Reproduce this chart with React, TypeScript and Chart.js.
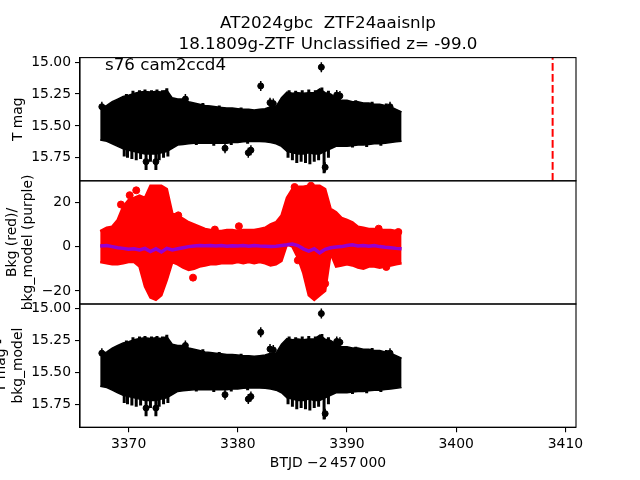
import React, { useEffect, useRef } from "react";
import { Chart, registerables } from "chart.js";

Chart.register(...registerables);

// ---------------- data ----------------
const BAND_X = [
  3367.4, 3368.0, 3368.5, 3369.0, 3369.5, 3370.0, 3370.5, 3371.0, 3371.5, 3372.0,
  3372.5, 3373.0, 3373.5, 3374.0, 3374.5, 3375.0, 3375.5, 3376.0, 3376.5, 3377.0,
  3377.5, 3378.0, 3378.5, 3379.0, 3379.5, 3380.0, 3380.5, 3381.0, 3381.5, 3382.0,
  3382.5, 3383.0, 3383.5, 3384.0, 3384.5, 3385.0, 3385.5, 3386.0, 3386.5, 3387.0,
  3387.5, 3388.0, 3388.5, 3389.0, 3389.5, 3390.0, 3390.5, 3391.0, 3391.5, 3392.0,
  3392.5, 3393.0, 3393.5, 3394.0, 3394.5, 3395.0,
];

// T mag band: bright edge (upper on inverted axis) and faint edge
const TMAG_BRIGHT = [
  15.36, 15.34, 15.31, 15.29, 15.27, 15.26, 15.245, 15.235, 15.23, 15.235,
  15.23, 15.235, 15.22, 15.28, 15.29, 15.29, 15.31, 15.32, 15.33, 15.34,
  15.345, 15.35, 15.355, 15.36, 15.36, 15.365, 15.37, 15.37, 15.375, 15.37,
  15.365, 15.35, 15.35, 15.28, 15.235, 15.245, 15.24, 15.245, 15.24, 15.24,
  15.21, 15.24, 15.25, 15.28, 15.30, 15.30, 15.31, 15.31, 15.32, 15.32,
  15.33, 15.33, 15.34, 15.35, 15.37, 15.39,
];
const TMAG_FAINT = [
  15.61, 15.62, 15.64, 15.66, 15.68, 15.69, 15.70, 15.71, 15.72, 15.72,
  15.72, 15.71, 15.70, 15.675, 15.65, 15.645, 15.64, 15.636, 15.636, 15.636,
  15.636, 15.636, 15.636, 15.636, 15.63, 15.63, 15.625, 15.623, 15.623, 15.623,
  15.625, 15.63, 15.64, 15.66, 15.70, 15.71, 15.72, 15.72, 15.71, 15.72,
  15.72, 15.70, 15.68, 15.66, 15.66, 15.66, 15.655, 15.65, 15.65, 15.645,
  15.64, 15.64, 15.635, 15.63, 15.625, 15.62,
];

// individual long error bars sticking out of the band
const SPIKE_X = [
  3369.6, 3369.9, 3370.3, 3370.7, 3371.1, 3371.6, 3372.0, 3372.5, 3372.8, 3373.2,
  3373.6, 3384.6, 3385.0, 3385.4, 3385.8, 3386.2, 3386.6, 3387.0, 3387.4, 3387.9,
  3388.3, 3376.2, 3377.8, 3379.4, 3380.9, 3390.5, 3391.8, 3393.1,
  3369.8, 3370.4, 3371.0, 3371.5, 3372.1, 3372.6, 3373.1, 3373.5, 3384.7, 3385.3,
  3385.9, 3386.5, 3387.1, 3387.7, 3388.3, 3389.1, 3376.8, 3378.3, 3380.3, 3390.8,
  3392.3, 3393.6,
];
const SPIKE_BRIGHT = [
  15.60, 15.60, 15.60, 15.60, 15.60, 15.60, 15.60, 15.60, 15.60, 15.60,
  15.60, 15.60, 15.60, 15.60, 15.60, 15.60, 15.60, 15.60, 15.60, 15.60,
  15.60, 15.55, 15.55, 15.55, 15.55, 15.55, 15.55, 15.55,
  15.25, 15.225, 15.22, 15.215, 15.22, 15.215, 15.22, 15.205, 15.22, 15.225,
  15.22, 15.215, 15.22, 15.20, 15.225, 15.25, 15.32, 15.34, 15.355, 15.30,
  15.31, 15.325,
];
const SPIKE_FAINT = [
  15.74, 15.75, 15.76, 15.77, 15.76, 15.845, 15.78, 15.845, 15.77, 15.75,
  15.74, 15.75, 15.77, 15.79, 15.78, 15.79, 15.80, 15.78, 15.77, 15.87,
  15.75, 15.65, 15.655, 15.65, 15.64, 15.67, 15.665, 15.655,
  15.45, 15.45, 15.45, 15.45, 15.45, 15.45, 15.45, 15.45, 15.45, 15.45,
  15.45, 15.45, 15.45, 15.45, 15.45, 15.45, 15.45, 15.45, 15.45, 15.45,
  15.45, 15.45,
];

// isolated points
const OUT_X = [
  3367.55, 3371.6, 3372.5, 3375.2, 3378.83, 3380.96, 3381.2, 3382.1, 3382.95, 3383.25,
  3387.65, 3388.0, 3389.06, 3389.35, 3393.94,
];
const OUT_MAG = [
  15.35, 15.78, 15.78, 15.29, 15.675, 15.71, 15.69, 15.187, 15.318, 15.325,
  15.04, 15.824, 15.258, 15.265, 15.35,
];

// background band (red) and model (purple)
const BKG_HI = [
  7, 8.5, 9, 12, 18, 21, 22, 23, 22, 27.5,
  27.5, 27.5, 26, 15, 14, 12.5, 11, 10, 9, 8,
  7.5, 7, 7, 7.5, 7.5, 7, 7.5, 7.5, 7.5, 8,
  8.5, 10, 11, 14, 22, 26, 27, 27, 27.5, 27.5,
  27.5, 26, 17, 15.5, 13, 12, 11, 9, 8.5, 8,
  8, 7.5, 7.5, 7.5, 7, 7,
];
const BKG_LO = [
  -7, -7.5, -8, -8, -7.5, -7, -7, -9, -18, -23,
  -24, -22, -15, -7, -8, -9.5, -10.5, -10, -9, -8.5,
  -8, -8, -7.5, -7.5, -7.5, -7, -7.5, -7, -7.5, -7,
  -7.5, -8.5, -8, -6.5, 1, 0, -5, -12, -22, -24,
  -22, -20, -3, -9, -8.5, -8, -8.5, -9.5, -10, -9,
  -9, -9.5, -9, -8.5, -8, -7.5,
];
const BKG_MODEL = [
  0.3, 0.5, 0, -0.5, -0.8, -1.2, -1.0, -1.5, -0.8, -2.2,
  -1.0, -2.4, -0.8, -1.5, -1.0, -0.5, 0, 0.3, 0.5, 0.4,
  0.5, 0.3, 0.5, 0.2, 0.4, 0.3, 0.5, 0.2, 0.5, 0.3,
  0.2, 0, 0.2, 0.5, 0.8, 1.2, 0.5, -1.0, -2.0, -1.0,
  -2.8, -1.2, -0.5, -0.2, 0, 0.5, 0.8, 0.3, 0.5, 0.2,
  0.5, 0, -0.3, -0.5, -0.8, -1.0,
];
const RED_X = [
  3375.9, 3380.1, 3370.1, 3370.7, 3385.2, 3386.7, 3374.55, 3377.9, 3385.5, 3387.8,
  3388.0, 3392.9, 3394.7, 3393.6, 3369.3,
];
const RED_Y = [
  -14, 9.2, 23.2, 25.4, 26.9, 27.5, 14.1, 7.7, -6.2, -13.7,
  -16.7, 8.1, 6.6, -9.2, 19,
];

const VLINE_X = 3408.83;

const X_TICKS = [3370, 3380, 3390, 3400, 3410];
const MAG_TICKS = [15.0, 15.25, 15.5, 15.75];
const BKG_TICKS = [-20, 0, 20];

const TITLE_1 = "AT2024gbc  ZTF24aaisnlp";
const TITLE_2 = "18.1809g-ZTF Unclassified z= -99.0";
const FIELD_TEXT = "s76 cam2ccd4";
const X_LABEL = "BTJD \u22122\u2009457\u2009000";

// ---------------- layout ----------------
const W = 640;
const H = 480;
const LEFT = 80;
const RIGHT = 576;
const P_TOP = [57.6, 180.8, 304];
const P_BOT = [180.8, 304, 427.2];
const YW = 60;
const XH = 30;
const X_MIN = 3365.55;
const X_MAX = 3410.97;
const MAG_MIN = 14.965;
const MAG_MAX = 15.93;
const BKG_MIN = -25.9;
const BKG_MAX = 29.7;
const FONT = "'DejaVu Sans', sans-serif";
const TICK_PX = 13.9;
const TITLE_PX = 16.7;

Chart.defaults.font.family = FONT;

const fmtMinus = (v: number) => (v < 0 ? "\u2212" + Math.abs(v) : String(v));

type TextItem = { text: string; x: number; y: number; size: number; rot?: boolean; align?: CanvasTextAlign; baseline?: CanvasTextBaseline };

function textPlugin(items: TextItem[]) {
  return {
    id: "texts",
    afterDraw(chart: any) {
      const ctx = chart.ctx as CanvasRenderingContext2D;
      const a = chart.chartArea;
      ctx.save();
      ctx.strokeStyle = "#000";
      ctx.lineWidth = 1.1;
      ctx.strokeRect(a.left, a.top, a.right - a.left, a.bottom - a.top);
      ctx.restore();
      for (const t of items) {
        ctx.save();
        ctx.font = `${t.size}px ${FONT}`;
        ctx.fillStyle = "#000";
        ctx.textAlign = t.align || "center";
        ctx.textBaseline = t.baseline || "alphabetic";
        ctx.translate(t.x, t.y);
        if (t.rot) ctx.rotate(-Math.PI / 2);
        ctx.fillText(t.text, 0, 0);
        ctx.restore();
      }
    },
  };
}

function axisStyle() {
  return {
    grid: { display: true, drawOnChartArea: false, drawTicks: true, tickLength: 5, color: "#000", lineWidth: 1.1, offset: false },
    border: { display: true, color: "#000", width: 1.1 },
  };
}

function makeConfig(panel: number, datasets: any[], yMin: number, yMax: number, reverse: boolean, yTicks: number[], yFmt: (v: number) => string, showX: boolean, texts: TextItem[]) {
  return {
    type: "line",
    data: { datasets },
    options: {
      responsive: false,
      animation: false,
      events: [],
      layout: {
        padding: {
          left: LEFT - YW,
          right: W - RIGHT,
          top: P_TOP[panel],
          bottom: showX ? H - P_BOT[panel] - XH : H - P_BOT[panel],
        },
      },
      plugins: { legend: { display: false }, tooltip: { enabled: false }, title: { display: false } },
      scales: {
        x: {
          type: "linear",
          min: X_MIN,
          max: X_MAX,
          offset: false,
          display: showX,
          afterFit: (s: any) => { s.height = showX ? XH : 0; },
          afterBuildTicks: (s: any) => { s.ticks = X_TICKS.map((v) => ({ value: v })); },
          ticks: { font: { family: FONT, size: TICK_PX }, color: "#000", padding: 4, maxRotation: 0, autoSkip: false, callback: (v: any) => String(v) },
          ...axisStyle(),
        },
        y: {
          type: "linear",
          min: yMin,
          max: yMax,
          reverse,
          afterFit: (s: any) => { s.width = YW; },
          afterBuildTicks: (s: any) => { s.ticks = yTicks.map((v) => ({ value: v })); },
          ticks: { font: { family: FONT, size: TICK_PX }, color: "#000", padding: 4, autoSkip: false, callback: (v: any) => yFmt(Number(v)) },
          ...axisStyle(),
        },
      },
    },
    plugins: [textPlugin(texts)],
  } as any;
}

function magDatasets() {
  const pts = (ys: number[]) => BAND_X.map((x, i) => ({ x, y: ys[i] }));
  const spikes: any[] = [];
  SPIKE_X.forEach((x, i) => {
    spikes.push({ x, y: SPIKE_BRIGHT[i] }, { x, y: SPIKE_FAINT[i] }, { x, y: null });
  });
  const out = OUT_X.map((x, i) => ({ x, y: OUT_MAG[i] }));
  return [
    { data: pts(TMAG_BRIGHT), borderColor: "#000", borderWidth: 1.5, pointRadius: 0, fill: false, tension: 0, order: 3 },
    { data: pts(TMAG_FAINT), borderColor: "#000", borderWidth: 1.5, pointRadius: 0, fill: "-1", backgroundColor: "#000", tension: 0, order: 3 },
    { data: spikes, borderColor: "#000", borderWidth: 3, pointRadius: 0, fill: false, spanGaps: false, order: 2 },
    { data: out, showLine: false, pointStyle: "line", rotation: 90, pointRadius: 5, borderColor: "#000", pointBorderWidth: 1.5, order: 1 },
    { data: out, showLine: false, pointStyle: "circle", pointRadius: 3, backgroundColor: "#000", pointBackgroundColor: "#000", pointBorderColor: "#000", order: 0 },
  ];
}

function bkgDatasets() {
  const pts = (ys: number[]) => BAND_X.map((x, i) => ({ x, y: ys[i] }));
  return [
    { data: pts(BKG_MODEL), borderColor: "#9400D3", borderWidth: 3.5, pointRadius: 0, fill: false, tension: 0, order: 0 },
    { data: RED_X.map((x, i) => ({ x, y: RED_Y[i] })), showLine: false, pointRadius: 3.5, pointBackgroundColor: "#ff0000", pointBorderColor: "#ff0000", order: 1 },
    { data: pts(BKG_HI), borderColor: "#ff0000", borderWidth: 2.5, pointRadius: 0, fill: false, tension: 0, order: 2 },
    { data: pts(BKG_LO), borderColor: "#ff0000", borderWidth: 2.5, pointRadius: 0, fill: "-1", backgroundColor: "#ff0000", tension: 0, order: 2 },
  ];
}

const fmtMag = (v: number) => v.toFixed(2);

export default function App() {
  const r1 = useRef<HTMLCanvasElement>(null);
  const r2 = useRef<HTMLCanvasElement>(null);
  const r3 = useRef<HTMLCanvasElement>(null);

  useEffect(() => {
    const midY = (p: number) => (P_TOP[p] + P_BOT[p]) / 2;
    const topSets = magDatasets();
    topSets.unshift({
      data: [{ x: VLINE_X, y: MAG_MAX }, { x: VLINE_X, y: MAG_MIN }],
      borderColor: "#ff0000",
      borderWidth: 2,
      borderDash: [7.7, 3.3],
      pointRadius: 0,
      fill: false,
      order: 0,
    } as any);
    const c1 = new Chart(
      r1.current as HTMLCanvasElement,
      makeConfig(0, topSets, MAG_MIN, MAG_MAX, true, MAG_TICKS, fmtMag, false, [
        { text: TITLE_1, x: (LEFT + RIGHT) / 2, y: 28, size: TITLE_PX },
        { text: TITLE_2, x: (LEFT + RIGHT) / 2, y: 48.5, size: TITLE_PX },
        { text: FIELD_TEXT, x: 105, y: 70, size: TITLE_PX, align: "left" },
        { text: "T mag", x: 18, y: midY(0), size: TICK_PX, rot: true, baseline: "middle" },
      ])
    );
    const c2 = new Chart(
      r2.current as HTMLCanvasElement,
      makeConfig(1, bkgDatasets(), BKG_MIN, BKG_MAX, false, BKG_TICKS, fmtMinus, false, [
        { text: "Bkg (red)/", x: 12, y: midY(1), size: TICK_PX, rot: true, baseline: "middle" },
        { text: "bkg_model (purple)", x: 28, y: midY(1), size: TICK_PX, rot: true, baseline: "middle" },
      ])
    );
    const c3 = new Chart(
      r3.current as HTMLCanvasElement,
      makeConfig(2, magDatasets(), MAG_MIN, MAG_MAX, true, MAG_TICKS, fmtMag, true, [
        { text: "T mag -", x: 1.5, y: midY(2), size: TICK_PX, rot: true, baseline: "middle" },
        { text: "bkg_model", x: 18, y: midY(2), size: TICK_PX, rot: true, baseline: "middle" },
        { text: X_LABEL, x: (LEFT + RIGHT) / 2, y: 463, size: TICK_PX, baseline: "middle" },
      ])
    );
    return () => {
      c1.destroy();
      c2.destroy();
      c3.destroy();
    };
  }, []);

  const cs: React.CSSProperties = { position: "absolute", left: 0, top: 0, display: "block" };
  return (
    <div style={{ position: "fixed", left: 0, top: 0, width: W, height: H, background: "#fff", overflow: "hidden" }}>
      <canvas ref={r1} width={W} height={H} style={cs} />
      <canvas ref={r2} width={W} height={H} style={cs} />
      <canvas ref={r3} width={W} height={H} style={cs} />
    </div>
  );
}
